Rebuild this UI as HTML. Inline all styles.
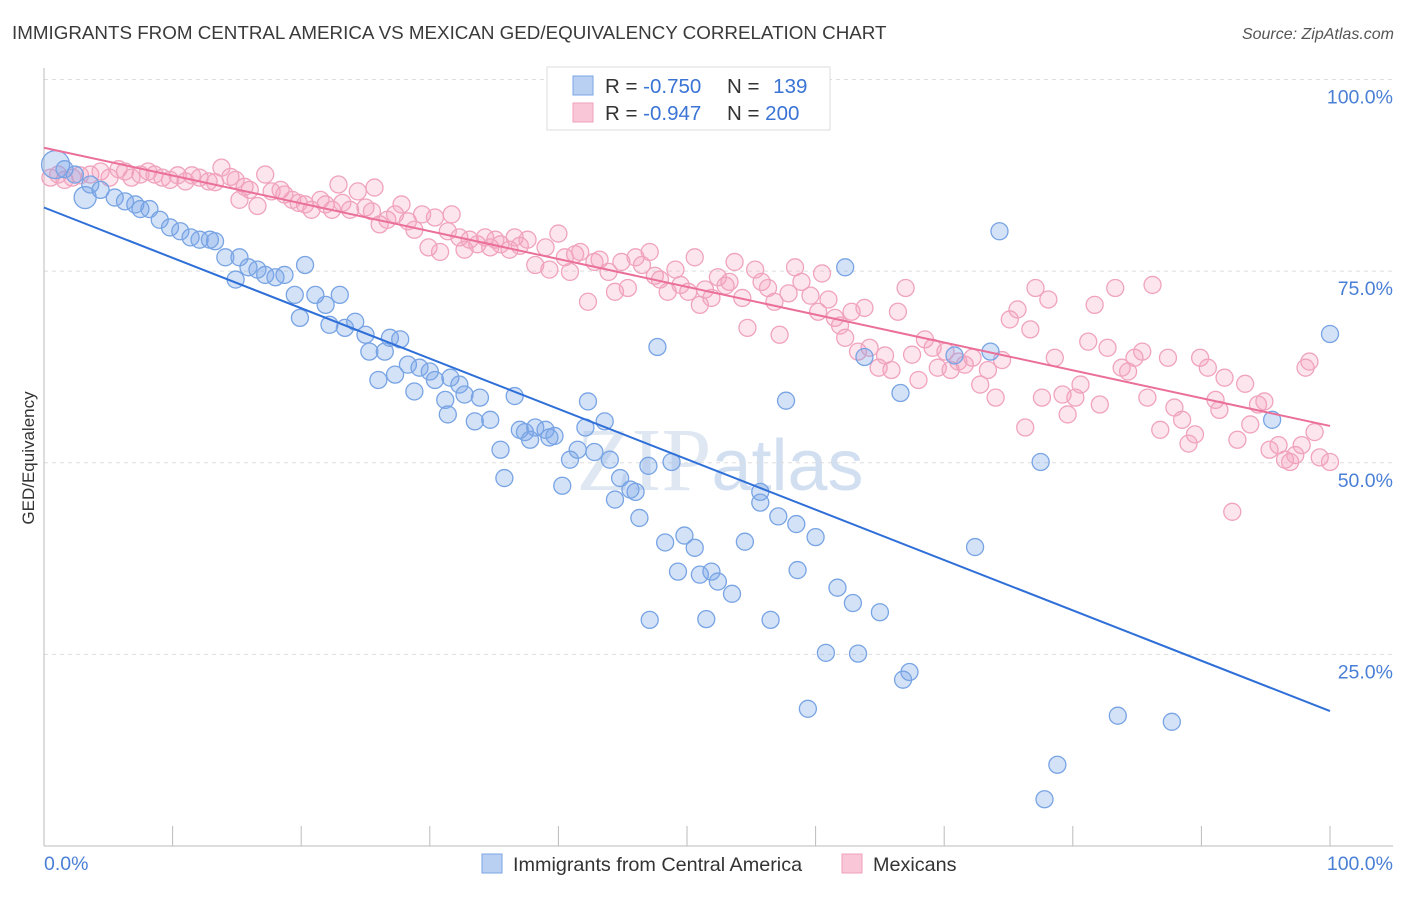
<!DOCTYPE html>
<html><head><meta charset="utf-8">
<style>
html,body{margin:0;padding:0;background:#fff;}
body{width:1406px;height:892px;overflow:hidden;font-family:"Liberation Sans",sans-serif;}
</style></head>
<body>
<svg id="chart" width="1406" height="892" xmlns="http://www.w3.org/2000/svg" font-family="Liberation Sans, sans-serif">
<text x="12" y="39" font-size="18.8" fill="#3a3a3a">IMMIGRANTS FROM CENTRAL AMERICA VS MEXICAN GED/EQUIVALENCY CORRELATION CHART</text>
<text x="1394" y="39" font-size="16" fill="#555" font-style="italic" text-anchor="end">Source: ZipAtlas.com</text>
<text x="720" y="490" font-size="90" fill="#d8e3f0" text-anchor="middle" font-family="Liberation Serif, serif" opacity="0.8">ZIP<tspan font-family="Liberation Sans, sans-serif" font-size="72" fill="#c6d8ee">atlas</tspan></text>
<g id="grid"></g>
<g id="axes"></g>
<g id="pinkPts"></g>
<g id="bluePts"></g>
<g id="lines"></g>
<text transform="translate(34,458) rotate(-90)" font-size="17" fill="#333" text-anchor="middle">GED/Equivalency</text>
<g>
<rect x="547" y="67" width="283" height="63" fill="#fff" stroke="#ddd"/>
<rect x="573" y="76" width="20" height="19" fill="#b9d0f3" stroke="#7aa6e6"/>
<rect x="573" y="103" width="20" height="19" fill="#f8c6d6" stroke="#f0a0bb"/>
<text x="605" y="93" font-size="20.5" fill="#333">R = <tspan fill="#3a74d4">-0.750</tspan></text>
<text x="727" y="93" font-size="20.5" fill="#333">N = <tspan fill="#3a74d4" dx="8">139</tspan></text>
<text x="605" y="120" font-size="20.5" fill="#333">R = <tspan fill="#3a74d4">-0.947</tspan></text>
<text x="727" y="120" font-size="20.5" fill="#333">N = <tspan fill="#3a74d4">200</tspan></text>
</g>
<g>
<rect x="482" y="854" width="20" height="19" fill="#b9d0f3" stroke="#7aa6e6"/>
<text x="513" y="871" font-size="19.8" fill="#333">Immigrants from Central America</text>
<rect x="842" y="854" width="20" height="19" fill="#f8c6d6" stroke="#f0a0bb"/>
<text x="873" y="871" font-size="19.8" fill="#333">Mexicans</text>
</g>
</svg>
<script>
const xTicks=[0,10,20,30,40,50,60,70,80,90,100];
const yTicks=[25,50,75,100];
const yTickLabels=["25.0%","50.0%","75.0%","100.0%"];
const blueX=[0.9,1.6,2.4,3.6,4.4,3.2,5.5,6.3,7.1,7.5,8.2,9.0,9.8,10.6,11.4,12.1,12.9,13.3,14.1,15.2,15.9,14.9,16.6,17.2,18.0,18.7,19.5,20.3,19.9,21.1,21.9,23.0,22.2,23.4,24.2,25.0,25.3,26.5,26.9,27.7,26.0,27.3,28.3,29.2,30.0,30.4,28.8,31.6,32.3,31.2,32.7,33.9,31.4,33.5,34.7,36.6,35.5,35.8,37.0,37.4,38.2,39.0,39.3,37.8,39.7,40.3,40.9,41.5,42.3,42.1,42.8,43.6,44.0,44.8,44.4,45.6,46.0,46.3,47.0,47.7,48.3,48.8,49.8,50.6,49.3,51.0,51.9,52.4,53.5,47.1,51.5,54.5,55.7,55.7,56.5,57.1,57.7,58.5,60.0,58.6,61.7,62.9,65.0,60.8,63.3,59.4,66.8,67.3,62.3,63.8,66.6,70.8,73.6,74.3,72.4,77.5,78.8,77.8,83.5,87.7,95.5,100,54.2,54.7];
const blueY=[88.9,88.3,87.6,86.3,85.6,84.6,84.6,84.1,83.7,83.1,83.1,81.7,80.7,80.2,79.4,79.1,79.1,78.9,76.8,76.8,75.5,73.9,75.2,74.5,74.2,74.5,71.9,75.8,68.9,71.9,70.6,71.9,68.0,67.6,68.4,66.7,64.5,64.5,66.3,66.1,60.8,61.5,62.8,62.4,61.9,60.8,59.3,61.1,60.2,58.2,58.9,58.5,56.3,55.4,55.6,58.7,51.7,48.0,54.3,54.0,54.6,54.3,53.3,53.0,53.5,47.0,50.4,51.7,58.0,54.6,51.4,55.4,50.4,48.0,45.2,46.5,46.2,42.8,49.6,65.1,39.6,50.1,40.5,38.9,35.8,35.4,35.8,34.5,32.9,29.5,29.6,39.7,46.2,44.8,29.5,43.0,58.1,42.0,40.3,36.0,33.7,31.7,30.5,25.2,25.1,17.9,21.7,22.7,75.5,63.8,59.1,64.0,64.5,80.2,39.0,50.1,10.6,6.1,17.0,16.2,55.6,66.8,100,100];
const blueBig=[0.9,3.2];
const pinkX=[0.5,1.1,1.6,2.2,2.8,3.6,4.4,5.1,5.8,6.3,6.8,7.5,8.1,8.6,9.2,9.8,10.4,11.0,11.5,12.1,12.8,13.3,13.8,14.5,14.9,15.2,15.6,16.0,16.6,17.2,17.7,18.4,18.7,19.3,19.8,20.3,20.8,21.5,21.9,22.4,22.9,23.2,23.8,24.4,25.0,25.5,25.7,26.1,26.7,27.3,27.8,28.3,28.8,29.4,29.9,30.4,30.8,31.4,31.7,32.3,32.7,33.1,33.7,34.3,34.7,35.1,35.5,36.2,36.6,37.0,37.6,38.2,39.0,39.3,40.0,40.5,40.9,41.3,41.7,42.3,42.8,43.2,43.9,44.4,44.9,45.4,46.0,46.5,47.1,47.5,47.9,48.5,49.1,49.5,50.1,50.6,51.0,51.4,51.9,52.4,53.0,53.3,53.7,54.3,54.7,55.3,55.8,56.3,56.8,57.2,57.9,58.4,58.9,59.6,60.2,60.5,61.0,61.5,61.9,62.3,62.8,63.3,63.8,64.2,64.9,65.4,65.9,66.4,67.0,67.5,68.0,68.5,69.1,69.5,70.1,70.5,71.1,71.6,72.2,72.8,73.4,74.0,74.5,75.1,75.7,76.3,76.7,77.1,77.6,78.1,78.6,79.2,79.6,80.2,80.6,81.2,81.7,82.1,82.7,83.3,83.8,84.3,84.8,85.4,85.8,86.2,86.8,87.4,87.9,88.5,89.0,89.5,89.9,90.5,91.1,91.4,91.8,92.4,92.8,93.4,93.8,94.4,94.9,95.3,96.0,96.5,96.9,97.3,97.8,98.1,98.4,98.8,99.2,100];
const pinkY=[87.2,87.6,86.9,87.2,87.5,87.6,88.0,87.2,88.3,88.0,87.2,87.6,88.0,87.6,87.2,86.9,87.5,86.7,87.5,87.2,86.7,86.6,88.5,87.3,86.9,84.3,86.0,85.6,83.5,87.6,85.4,85.6,85.0,84.3,83.9,83.7,83.0,84.3,83.7,83.0,86.3,83.9,83.0,85.4,83.3,82.8,85.9,81.1,81.7,82.4,83.7,81.5,80.4,82.4,78.1,82.0,77.5,80.2,82.4,79.4,77.8,79.1,78.5,79.4,78.1,79.1,78.5,77.8,79.4,78.3,79.1,75.8,78.1,75.2,79.9,76.8,74.9,77.2,77.5,71.0,76.2,76.5,74.9,72.3,76.2,72.8,76.8,75.8,77.5,74.4,73.9,72.3,75.2,73.2,72.3,76.8,70.6,72.6,71.5,74.2,73.1,73.6,76.2,71.5,67.6,75.2,73.6,72.8,71.0,66.7,72.1,75.5,73.6,71.8,69.7,74.7,71.3,68.9,67.9,66.3,69.7,64.5,70.2,65.0,62.4,64.0,62.1,69.7,72.8,64.1,60.8,66.1,65.0,62.4,64.5,62.1,63.2,62.8,63.7,60.2,62.1,58.5,63.4,68.7,70.0,54.6,67.4,72.8,58.5,71.3,63.7,58.9,56.3,58.5,60.2,65.8,70.6,57.6,65.0,72.8,62.4,61.9,63.7,64.5,58.5,73.2,54.3,63.7,57.2,55.6,52.5,53.7,63.7,62.4,58.2,56.9,61.1,43.6,53.0,60.3,55.0,57.6,58.0,51.7,52.3,50.4,50.1,51.0,52.3,62.4,63.2,54.0,50.7,50.1];
const blueTrend=[83.3,17.6];
const pinkTrend=[91.1,54.8];

const NS="http://www.w3.org/2000/svg";
const X0=44,X1=1330,Y0=846,Y100=79.5;
function sx(v){return X0+(X1-X0)*v/100;}
function sy(v){return Y0-(Y0-Y100)*v/100;}
function mk(tag,attrs,parent){const e=document.createElementNS(NS,tag);for(const k in attrs)e.setAttribute(k,attrs[k]);parent.appendChild(e);return e;}
const grid=document.getElementById('grid'),axes=document.getElementById('axes');
yTicks.forEach((t,i)=>{
  const l=mk('line',{x1:44,x2:1393,y1:sy(t),y2:sy(t),stroke:'#ddd','stroke-dasharray':'4,4'},grid);
  
  
  const tx=mk('text',{x:1393,y:sy(t)+24,'font-size':19.5,fill:'#4a7fd6','text-anchor':'end'},axes);
  tx.textContent=yTickLabels[i];
  
  
});
const xa=mk('line',{x1:44,x2:1393,y1:846,y2:846,stroke:'#bbb'},axes);


const ya=mk('line',{x1:44,x2:44,y1:68,y2:846,stroke:'#bbb'},axes);


xTicks.forEach(t=>{
  const l=mk('line',{x1:sx(t),x2:sx(t),y1:826,y2:846,stroke:'#bbb'},axes);
  
  
});
const xl0=mk('text',{x:44,y:870,'font-size':19.5,fill:'#4a7fd6'},axes);xl0.textContent=xTicks[0].toFixed(1)+'%';


const xl1=mk('text',{x:1393,y:870,'font-size':19.5,fill:'#4a7fd6','text-anchor':'end'},axes);xl1.textContent=xTicks[10].toFixed(1)+'%';



const pg=document.getElementById('pinkPts');
pinkX.forEach((x,i)=>{
  const c=mk('circle',{cx:sx(x),cy:sy(pinkY[i]),r:8.5,fill:'rgba(244,160,190,0.28)',stroke:'#f0a3bd','stroke-width':1.3},pg);
  
  
});
const bg=document.getElementById('bluePts');
blueX.forEach((x,i)=>{
  const big=blueBig.includes(x)&&i<6;
  const c=mk('circle',{cx:sx(x),cy:sy(blueY[i]),r:big?(i===0?14:11):8.5,fill:'rgba(120,165,232,0.32)',stroke:'#78a4e4','stroke-width':1.3},bg);
  
  
});
const lg=document.getElementById('lines');
const bl=mk('line',{x1:sx(0),y1:sy(blueTrend[0]),x2:sx(100),y2:sy(blueTrend[1]),stroke:'#2f6fd8','stroke-width':2},lg);


const pl=mk('line',{x1:sx(0),y1:sy(pinkTrend[0]),x2:sx(100),y2:sy(pinkTrend[1]),stroke:'#ea6f99','stroke-width':2},lg);


</script>
</body></html>
